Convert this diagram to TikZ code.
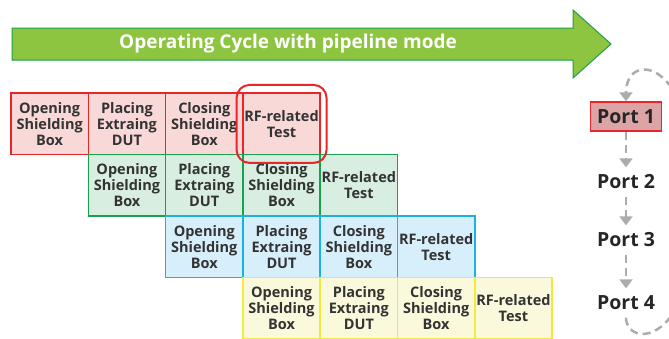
\documentclass[tikz,border=0pt]{standalone}
\usepackage{fontspec}
\setmainfont{Open Sans}
\usetikzlibrary{arrows.meta}
\definecolor{bannergreen}{HTML}{8DC540}
\definecolor{bannerline}{HTML}{1E9E48}
\definecolor{pinkfill}{HTML}{F9D8D8}
\definecolor{pinkline}{HTML}{E8262A}
\definecolor{greenfill}{HTML}{D7EEE1}
\definecolor{greenline}{HTML}{1AA14F}
\definecolor{bluefill}{HTML}{D6EFFB}
\definecolor{blueline}{HTML}{1BB0E8}
\definecolor{yellowfill}{HTML}{FBF9DC}
\definecolor{yellowline}{HTML}{F2E93A}
\definecolor{portfill}{HTML}{DCA4A4}
\definecolor{txtgray}{HTML}{333333}

\begin{document}
\begin{tikzpicture}[x=1pt,y=-1pt,
	cell/.style={draw,line width=1.5pt,minimum width=77.3pt,minimum height=61.5pt,inner sep=0pt,align=center,text=txtgray,font=\fontsize{14.5}{16}\selectfont\bfseries},
	port/.style={minimum width=71pt,minimum height=29pt,inner sep=0pt,text=black!85,font=\fontsize{19.5}{22}\selectfont\bfseries},
	cyc/.style={draw=gray!65,line width=2.5pt,dash pattern=on 8pt off 5pt,-{Triangle[width=13pt,length=9pt]}}]
		\useasboundingbox (0,0) rectangle (669,338);
		\clip (0,0) rectangle (669,338);
		% banner arrow
		\draw[fill=bannergreen,draw=bannerline,line width=1pt] (12,28) -- (573,28) -- (573,10) -- (611,44) -- (573,78) -- (573,60) -- (12,60) -- cycle;
		\node[text=white,font=\fontsize{19}{21}\selectfont\bfseries] (title) at (288,44) {Operating Cycle with pipeline mode};
		% one row per port, shifted by one step
		\foreach \row/\fc/\dc in {1/pinkfill/pinkline,2/greenfill/greenline,3/bluefill/blueline,4/yellowfill/yellowline}{
			\foreach \col/\txt in {1/{Opening\\Shielding\\Box},2/{Placing\\Extraing\\DUT},3/{Closing\\Shielding\\Box},4/{RF-related\\Test}}
				\node[cell,fill=\fc,draw=\dc] (c\row\col) at ({49.65+77.3*(\row+\col-2)},{123.9+61.5*(\row-1)}) {\txt};
		}
		\node[draw=pinkline,line width=2pt,rounded corners=13pt,minimum width=90pt,minimum height=78pt] (hl) at (c14) {};
		% ports
		\node[port,draw=pinkline,fill=portfill,line width=1.5pt] (p1) at (626,116.5) {Port 1};
		\node[port] (p2) at (626,182) {Port 2};
		\node[port] (p3) at (626,240) {Port 3};
		\node[port] (p4) at (626,303) {Port 4};
		\draw[cyc] (p1) -- (p2);
		\draw[cyc] (p2) -- (p3);
		\draw[cyc] (p3) -- (p4);
		\draw[cyc] (p4.south) .. controls (626,348) and (695,348) .. (697,210) .. controls (700,58) and (626,48) .. (p1.north);
		%\draw[red] (0,0) grid[step=50] (669,338);
\end{tikzpicture}
\end{document}
